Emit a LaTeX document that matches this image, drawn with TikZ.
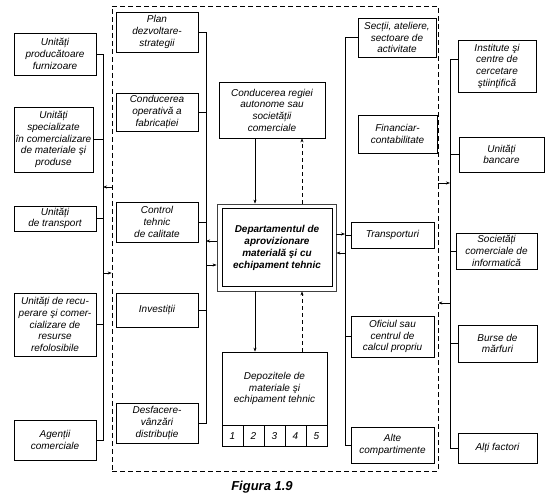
\documentclass[tikz,border=0pt]{standalone}
\usepackage{fontspec}
\setmainfont{Liberation Sans}
\usetikzlibrary{arrows.meta, positioning, calc}

\tikzset{
  blk/.style={draw, line width=0.7pt, align=center, inner sep=0.5pt,
    font=\fontsize{10}{11.7}\selectfont\itshape},
  cell/.style={draw, line width=0.7pt, minimum width=21pt, minimum height=21pt,
    inner sep=0pt, font=\fontsize{10}{11.7}\selectfont\itshape},
  lnk/.style={line width=0.6pt},
  arr/.style={line width=0.6pt, -{Stealth[length=4pt,width=3pt]}},
  dsh/.style={dash pattern=on 4pt off 3pt},
}

\begin{document}
\begin{tikzpicture}[x=1pt, y=-1pt]
\useasboundingbox (0,0) rectangle (552,497);

% dashed frame of the enterprise
\node[draw, line width=0.7pt, dash pattern=on 5pt off 3pt, minimum width=326pt,
  minimum height=465pt, inner sep=0pt] (frame) at (275,238.5) {};

% outer left partners
\node[blk, minimum width=82pt, minimum height=42pt] (prod) at (55,54) {Unități\\producătoare\\furnizoare};
\node[blk, minimum width=79pt, minimum height=65pt] (spec) at (53.5,139.5) {Unități\\specializate\\în comercializare\\de materiale şi\\produse};
\node[blk, minimum width=82pt, minimum height=25pt] (transp) at (55,218.5) {Unități\\de transport};
\node[blk, minimum width=82pt, minimum height=63pt] (recup) at (55,324.5) {Unități de recu-\\perare şi comer-\\cializare de\\resurse\\refolosibile};
\node[blk, minimum width=82pt, minimum height=40pt] (agent) at (55,440) {Agenții\\comerciale};

% inner left departments
\node[blk, minimum width=82pt, minimum height=40pt] (plan) at (157,32) {Plan\\dezvoltare-\\strategii};
\node[blk, minimum width=82pt, minimum height=38pt] (condop) at (157,112) {Conducerea\\operativă a\\fabricației};
\node[blk, minimum width=82pt, minimum height=40pt] (ctrl) at (157,222) {Control\\tehnic\\de calitate};
\node[blk, minimum width=82pt, minimum height=34pt] (invest) at (157,310) {Investiții};
\node[blk, minimum width=82pt, minimum height=40pt] (desf) at (157,423) {Desfacere-\\vânzări\\distribuție};

% centre
\node[blk, minimum width=106pt, minimum height=56pt] (cond) at (272,110) {Conducerea regiei\\autonome sau\\societății\\comerciale};
\node[draw, line width=0.8pt, draw=black!75, minimum width=119pt, minimum height=87pt] (deptout) at (276.5,247.5) {};
\node[blk, line width=1pt, minimum width=110pt, minimum height=78pt,
  font=\fontsize{10}{12}\selectfont\bfseries\itshape] (dept) at (277,248)
  {Departamentul de\\aprovizionare\\materială şi cu\\echipament tehnic};
\node[blk, minimum width=105pt, minimum height=73pt] (depoz) at (274.5,388.5) {Depozitele de\\materiale şi\\echipament tehnic};
\foreach \i in {1,...,5}
  \node[cell, anchor=north west] (c\i) at ($(depoz.south west)+({21*(\i-1)},0)$) {\i};

% inner right departments
\node[blk, minimum width=78pt, minimum height=39pt] (sectii) at (397,37.5) {Secții, ateliere,\\sectoare de\\activitate};
\node[blk, minimum width=79pt, minimum height=38pt] (fin) at (397.5,134) {Financiar-\\contabilitate};
\node[blk, minimum width=83pt, minimum height=26pt] (transpi) at (392.5,235) {Transporturi};
\node[blk, minimum width=83pt, minimum height=41pt] (ofic) at (392.5,336.5) {Oficiul sau\\centrul de\\calcul propriu};
\node[blk, minimum width=83pt, minimum height=36pt] (alte) at (392.5,445) {Alte\\compartimente};

% outer right partners
\node[blk, minimum width=78pt, minimum height=52pt] (inst) at (497,66) {Institute şi\\centre de\\cercetare\\ştiinţifică};
\node[blk, minimum width=85pt, minimum height=35pt] (banc) at (501.5,154.5) {Unități\\bancare};
\node[blk, minimum width=81pt, minimum height=36pt] (soc) at (496.5,251) {Societăți\\comerciale de\\informatică};
\node[blk, minimum width=79pt, minimum height=37pt] (burse) at (497.5,343.5) {Burse de\\mărfuri};
\node[blk, minimum width=79pt, minimum height=30pt] (alti) at (497.5,448) {Alți factori};

\node[font=\fontsize{13}{15}\selectfont\bfseries\itshape] (fig) at (262,487) {Figura 1.9};

% bus lines
\coordinate (lb) at (103,0);
\coordinate (ib) at (206,0);
\coordinate (rb) at (345,0);
\coordinate (ob) at (450,0);

\draw[lnk] (prod.east) -| (lb |- agent.east) -- (agent.east);
\foreach \n in {spec, transp, recup}
  \draw[lnk] (\n.east) -- (\n.east -| lb);

\draw[lnk] (plan.east) -| (ib |- desf.east) -- (desf.east);
\foreach \n in {condop, ctrl, invest}
  \draw[lnk] (\n.east) -- (\n.east -| ib);

\draw[lnk] (sectii.west) -| (rb |- alte.west) -- (alte.west);
\foreach \n in {transpi, ofic}
  \draw[lnk] (\n.west) -- (\n.west -| rb);

\draw[lnk] ([yshift=7pt]inst.west) -| (ob |- alti.west) -- (alti.west);
\foreach \n in {banc, soc, burse}
  \draw[lnk] (\n.west) -- (\n.west -| ob);

% arrow levels
\coordinate (inL) at (0,187);
\coordinate (outL) at (0,273);
\coordinate (depL) at (0,241);
\coordinate (toL) at (0,265);
\coordinate (depR) at (0,234);
\coordinate (toR) at (0,253);
\coordinate (inR) at (0,183);
\coordinate (outR) at (0,303);

\draw[arr] (inL -| frame.west) -- (inL -| lb);
\draw[arr] (outL -| lb) -- (outL -| frame.west);
\draw[arr] (depL -| deptout.west) -- (depL -| ib);
\draw[arr] (toL -| ib) -- (toL -| deptout.west);
\draw[arr] (depR -| deptout.east) -- (depR -| rb);
\draw[arr] (toR -| rb) -- (toR -| deptout.east);
\draw[arr] (inR -| frame.east) -- (inR -| ob);
\draw[arr] (outR -| ob) -- (outR -| frame.east);

% vertical links of the department
\coordinate (vs) at (255,0);
\coordinate (vd) at (302,0);
\draw[arr] (cond.south -| vs) -- (deptout.north -| vs);
\draw[arr, dsh] (deptout.north -| vd) -- (cond.south -| vd);
\draw[arr] (deptout.south -| vs) -- (depoz.north -| vs);
\draw[arr, dsh] (depoz.north -| vd) -- (deptout.south -| vd);
\end{tikzpicture}
\end{document}
